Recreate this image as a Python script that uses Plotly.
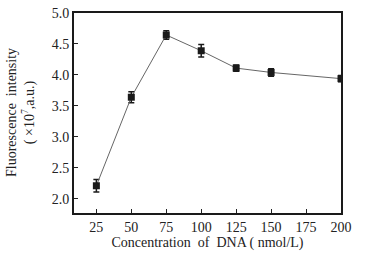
import plotly.graph_objects as go

conc = [25, 50, 75, 100, 125, 150, 200]
intensity = [2.21, 3.64, 4.645, 4.39, 4.11, 4.04, 3.94]
err = [0.10, 0.09, 0.07, 0.10, 0.05, 0.06, 0.05]
x_ticks = [25, 50, 75, 100, 125, 150, 175, 200]
y_ticks = [2.0, 2.5, 3.0, 3.5, 4.0, 4.5, 5.0]

font = "Liberation Serif, Times New Roman, serif"

fig = go.Figure()
fig.add_trace(go.Scatter(
    x=conc, y=intensity, mode="lines+markers",
    line=dict(color="#666666", width=1),
    marker=dict(symbol="square", size=7, color="#1a1a1a"),
    error_y=dict(type="data", array=err, color="#1a1a1a", thickness=1.5, width=3),
))

fig.update_layout(
    width=365, height=264,
    margin=dict(l=74, r=24, t=13, b=51, autoexpand=False),
    paper_bgcolor="white", plot_bgcolor="white",
    showlegend=False,
    font=dict(family=font, size=14, color="#222222"),
    xaxis=dict(
        automargin=False,
        range=[9, 200], tickmode="array", tickvals=x_ticks,
        ticktext=[str(v) for v in x_ticks],
        ticks="inside", ticklen=4, tickcolor="#222", tickwidth=1,
        showline=True, linecolor="#1a1a1a", linewidth=2, mirror=True,
        showgrid=False, zeroline=False,
        title=dict(text="Concentration  of  DNA ( nmol/L)", font=dict(size=14), standoff=2),
    ),
    yaxis=dict(
        automargin=False,
        range=[1.77, 5.0], tickmode="array", tickvals=y_ticks,
        ticktext=["%.1f" % v for v in y_ticks],
        ticks="inside", ticklen=4, tickcolor="#222", tickwidth=1,
        showline=True, linecolor="#1a1a1a", linewidth=2, mirror=True,
        showgrid=False, zeroline=False,
    ),
    annotations=[dict(
        text="Fluorescence  intensity<br>( ×10<sup>7</sup>,a.u.)",
        textangle=-90, xref="paper", yref="paper",
        x=-(74 - 21) / 267, y=0.5, xanchor="center", yanchor="middle",
        showarrow=False, font=dict(family=font, size=14, color="#222222"),
    )],
)

fig.write_html("out.html", config={"displayModeBar": False},
               post_script="document.body.style.margin='0';")
